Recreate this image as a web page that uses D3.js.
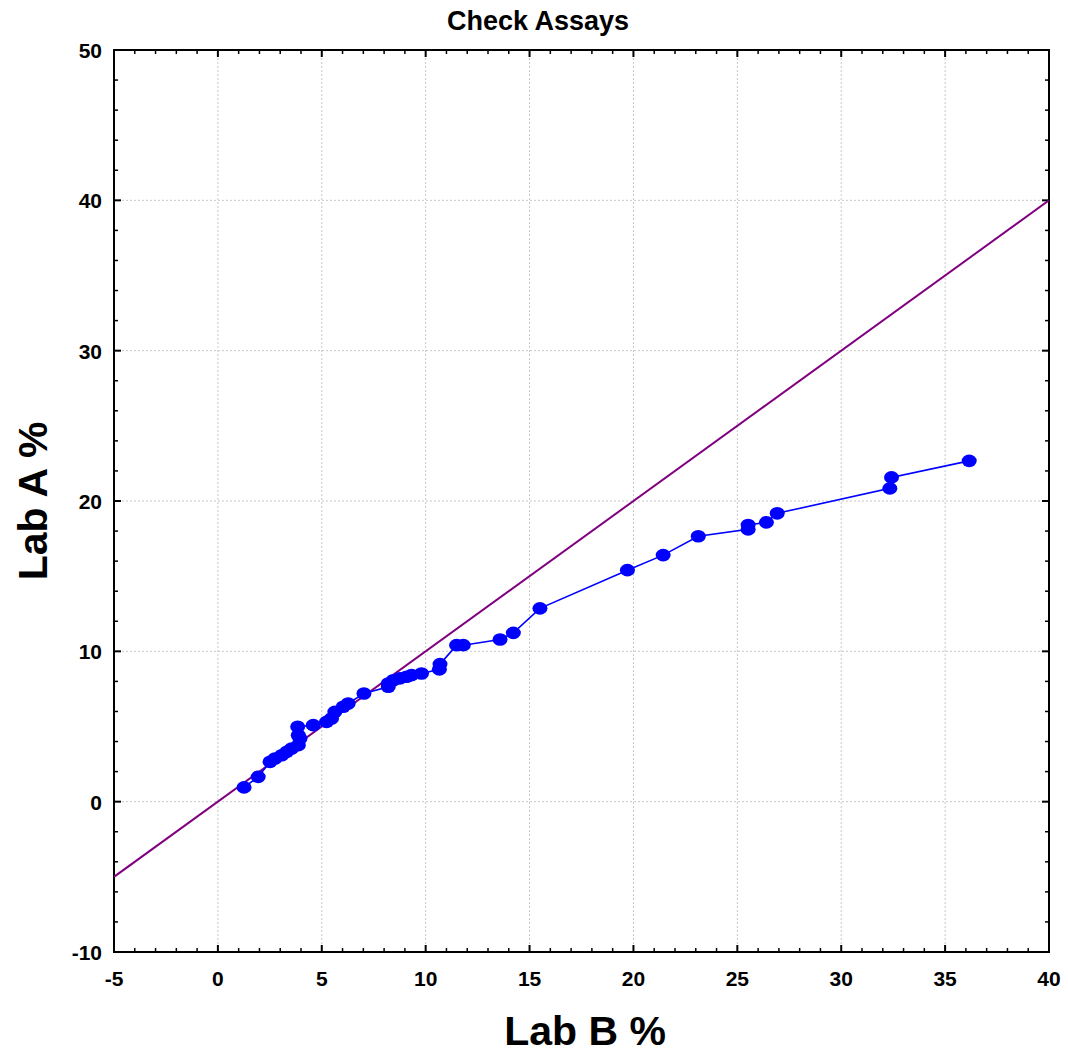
<!DOCTYPE html>
<html lang="en">
<head>
    <meta charset="UTF-8">
    <title>Check Assays</title>
    <script src="https://d3js.org/d3.v7.min.js"></script>
    <style>
        body { margin: 0; background: #fff; }
        text { font-family: "Liberation Sans", Arial, sans-serif; font-weight: bold; fill: #000; }
    </style>
</head>
<body>
    <script>
        // Lab B % (x) vs Lab A % (y)
        const labB = [1.26, 1.94, 2.51, 2.75, 3.07, 3.31, 3.55, 3.87, 3.95, 3.87, 3.84,
            4.59, 5.23, 5.47, 5.63, 6.03, 6.27, 7.03, 8.2, 8.2, 8.44, 8.76, 9.08, 9.32, 9.8,
            10.66, 10.69, 11.49, 11.81, 13.58, 14.22, 15.5, 19.71, 21.43, 23.12,
            25.52, 25.52, 26.4, 26.92, 32.34, 32.42, 36.16];
        const labA = [0.95, 1.65, 2.65, 2.87, 3.09, 3.31, 3.54, 3.76, 4.2, 4.42, 4.98,
            5.09, 5.31, 5.53, 5.97, 6.31, 6.53, 7.2, 7.64, 7.86, 8.08, 8.2, 8.31, 8.42, 8.53,
            8.8, 9.15, 10.41, 10.41, 10.79, 11.23, 12.86, 15.4, 16.4, 17.66,
            18.11, 18.4, 18.58, 19.18, 20.84, 21.57, 22.67];
        const xTicks = [-5, 0, 5, 10, 15, 20, 25, 30, 35, 40];
        const yTicks = [-10, 0, 10, 20, 30, 40, 50];
        const xDomain = [-5, 40];
        const yDomain = [-10, 50];

        const width = 1068, height = 1053;
        const mLeft = 114, mRight = 1049, mTop = 50, mBottom = 952;

        const svg = d3.select("body").append("svg")
            .attr("width", width)
            .attr("height", height);

        const x = d3.scaleLinear().domain(xDomain).range([mLeft, mRight]);
        const y = d3.scaleLinear().domain(yDomain).range([mBottom, mTop]);

        // grid
        const grid = svg.append("g");
        grid.selectAll(".gx").data(xTicks.slice(1, -1)).enter().append("line")
            .attr("x1", d => x(d)).attr("x2", d => x(d))
            .attr("y1", mTop).attr("y2", mBottom)
            .attr("stroke", "#c8c8c8").attr("stroke-dasharray", "2,2");
        grid.selectAll(".gy").data(yTicks.slice(1, -1)).enter().append("line")
            .attr("y1", d => y(d)).attr("y2", d => y(d))
            .attr("x1", mLeft).attr("x2", mRight)
            .attr("stroke", "#c8c8c8").attr("stroke-dasharray", "2,2");

        // minor + major ticks on all four sides, pointing inward
        const ticks = svg.append("g").attr("stroke", "#000");
        const xMinor = d3.range(xDomain[0], xDomain[1] + 0.001, 1);
        const yMinor = d3.range(yDomain[0], yDomain[1] + 0.001, 2);
        xMinor.forEach(v => {
            const major = v % 5 === 0;
            const len = major ? 7 : 4;
            ticks.append("line").attr("x1", x(v)).attr("x2", x(v))
                .attr("y1", mBottom).attr("y2", mBottom - len).attr("stroke-width", major ? 2 : 1.5);
            ticks.append("line").attr("x1", x(v)).attr("x2", x(v))
                .attr("y1", mTop).attr("y2", mTop + len).attr("stroke-width", major ? 2 : 1.5);
        });
        yMinor.forEach(v => {
            const major = v % 10 === 0;
            const len = major ? 7 : 4;
            ticks.append("line").attr("y1", y(v)).attr("y2", y(v))
                .attr("x1", mLeft).attr("x2", mLeft + len).attr("stroke-width", major ? 2 : 1.5);
            ticks.append("line").attr("y1", y(v)).attr("y2", y(v))
                .attr("x1", mRight).attr("x2", mRight - len).attr("stroke-width", major ? 2 : 1.5);
        });

        // frame
        svg.append("rect")
            .attr("x", mLeft).attr("y", mTop)
            .attr("width", mRight - mLeft).attr("height", mBottom - mTop)
            .attr("fill", "none").attr("stroke", "#000").attr("stroke-width", 2);

        // tick labels
        svg.selectAll(".xl").data(xTicks).enter().append("text")
            .attr("x", d => x(d)).attr("y", mBottom + 34)
            .attr("text-anchor", "middle").attr("font-size", 21)
            .text(d => d);
        svg.selectAll(".yl").data(yTicks).enter().append("text")
            .attr("x", mLeft - 12).attr("y", d => y(d) + 8)
            .attr("text-anchor", "end").attr("font-size", 21)
            .text(d => d);

        // identity line
        svg.append("clipPath").attr("id", "plot")
            .append("rect").attr("x", mLeft).attr("y", mTop)
            .attr("width", mRight - mLeft).attr("height", mBottom - mTop);

        svg.append("line")
            .attr("clip-path", "url(#plot)")
            .attr("x1", x(-5)).attr("y1", y(-5))
            .attr("x2", x(40)).attr("y2", y(40))
            .attr("stroke", "#800080").attr("stroke-width", 2);

        // data series
        const pts = labB.map((b, i) => ({ b: b, a: labA[i] }));
        svg.append("path")
            .datum(pts)
            .attr("fill", "none")
            .attr("stroke", "#0000ff")
            .attr("stroke-width", 1.6)
            .attr("d", d3.line().x(d => x(d.b)).y(d => y(d.a)));

        svg.selectAll(".pt").data(pts).enter().append("ellipse")
            .attr("cx", d => x(d.b)).attr("cy", d => y(d.a))
            .attr("rx", 7.5).attr("ry", 6.3)
            .attr("fill", "#0000ff");

        // titles
        svg.append("text")
            .attr("x", 538).attr("y", 30)
            .attr("text-anchor", "middle").attr("font-size", 27)
            .text("Check Assays");
        svg.append("text")
            .attr("x", 585).attr("y", 1045)
            .attr("text-anchor", "middle").attr("font-size", 41)
            .text("Lab B %");
        svg.append("text")
            .attr("transform", "translate(47,501) rotate(-90)")
            .attr("text-anchor", "middle").attr("font-size", 41)
            .text("Lab A %");
    </script>
</body>
</html>
